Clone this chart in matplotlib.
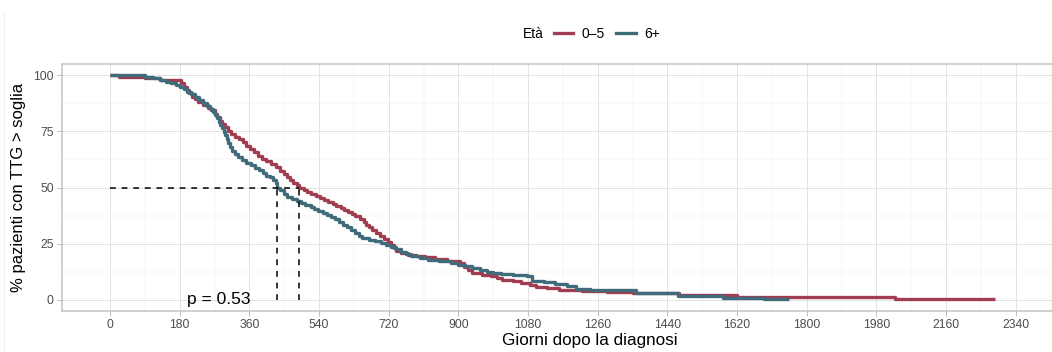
import numpy as np
import matplotlib
matplotlib.use("Agg")
import matplotlib.pyplot as plt
from matplotlib.lines import Line2D

plt.rcParams['font.family'] = ['Liberation Sans', 'DejaVu Sans']

# Kaplan-Meier steps (day, % above threshold after the drop)
t_05 = [0, 22, 90, 130, 183, 190, 198, 205, 212, 220, 228, 240, 252, 262, 270, 276, 283, 290,
        297, 305, 312, 322, 334, 344, 352, 362, 372, 382, 392, 404, 416, 428, 440, 450, 458,
        466, 474, 482, 488, 500, 510, 520, 532, 543, 553, 563, 575, 585, 596, 605, 614, 624,
        634, 645, 655, 662, 670, 678, 688, 698, 708, 718, 726, 733, 740, 752, 770, 790, 815,
        840, 870, 905, 915, 925, 935, 960, 985, 1000, 1012, 1040, 1062, 1085, 1100, 1130,
        1160, 1220, 1285, 1350, 1470, 1620, 2027]
s_05 = [100, 99.1, 98.6, 97.8, 96.4, 94.9, 93.3, 92.0, 90.4, 89.3, 88.0, 86.7, 85.5, 84.4,
        82.7, 81.3, 79.6, 78.2, 76.9, 75.1, 73.8, 72.4, 71.6, 70.2, 68.4, 67.1, 65.8, 64.0,
        62.7, 61.8, 60.4, 59.1, 57.3, 56.0, 54.7, 53.3, 52.0, 51.1, 49.8, 48.9, 48.0, 47.1,
        46.2, 45.3, 44.4, 43.6, 42.7, 41.8, 40.9, 40.0, 39.1, 38.2, 37.3, 36.0, 34.7, 33.3,
        32.4, 31.1, 29.8, 28.4, 27.1, 25.8, 24.4, 23.1, 21.8, 20.9, 20.0, 19.6, 19.1, 18.2,
        17.3, 16.4, 14.7, 13.3, 12.0, 11.1, 10.4, 9.6, 8.9, 8.4, 7.6, 6.7, 5.8, 5.3, 4.4,
        4.0, 3.6, 3.1, 2.2, 1.2, 0.3]
end_05 = 2287

t_6p = [0, 90, 110, 130, 145, 158, 170, 182, 192, 200, 210, 220, 230, 240, 250, 258, 265,
        270, 276, 281, 285, 290, 294, 298, 302, 306, 311, 316, 322, 330, 340, 352, 364, 374,
        384, 394, 404, 414, 420, 428, 431, 440, 450, 458, 470, 482, 494, 505, 518, 528, 538,
        550, 561, 570, 580, 592, 603, 612, 622, 632, 642, 652, 668, 685, 700, 712, 725, 740,
        752, 765, 777, 800, 822, 850, 880, 900, 918, 935, 955, 975, 990, 1010, 1040, 1078,
        1090, 1120, 1150, 1180, 1205, 1240, 1300, 1360, 1468, 1584, 1690]
s_6p = [100, 99.3, 98.9, 97.8, 97.1, 96.4, 95.6, 94.8, 93.7, 92.6, 91.5, 90.2, 89.1, 87.8,
        86.4, 85.1, 83.8, 82.3, 80.9, 79.3, 77.8, 76.4, 74.9, 73.3, 71.6, 70.0, 68.2, 66.4,
        64.9, 63.6, 62.4, 61.1, 60.0, 58.9, 57.6, 56.4, 55.1, 54.7, 53.3, 52.0, 49.8, 48.7,
        47.3, 45.8, 44.9, 44.2, 43.3, 42.4, 41.5, 40.4, 39.6, 38.7, 37.8, 36.9, 35.8, 34.7,
        33.3, 32.2, 31.1, 29.8, 28.4, 27.6, 26.7, 26.0, 25.3, 24.4, 23.6, 22.7, 21.3, 20.4,
        19.3, 18.7, 17.8, 17.1, 16.4, 15.6, 14.9, 14.0, 13.3, 12.4, 11.8, 11.3, 10.9, 10.4,
        8.4, 7.8, 7.1, 6.0, 4.9, 4.4, 4.2, 3.1, 1.6, 0.8, 0.3]
end_6p = 1755

groups = ["0\u20135", "6+"]
colors = ["#A03D50", "#3F6B7B"]
x_max = 2480          # longest follow-up, sets the axis range
p_value = 0.53

fig = plt.figure(figsize=(10.52, 3.52), dpi=100)
ax = fig.add_axes([62 / 1052, 41 / 352, 1056 / 1052, 247 / 352])

curves = [(t_05, s_05, end_05), (t_6p, s_6p, end_6p)]
medians = []
for (t, s, end), col in zip(curves, colors):
    tt = np.append(t, end)
    ss = np.append(s, s[-1])
    ax.step(tt, ss, where="post", color=col, lw=2.4, solid_capstyle="butt", zorder=3)
    medians.append(tt[np.argmax(ss <= 50)])

dash = dict(color="black", lw=1.1, dashes=(3.8, 3.8), zorder=4)
ax.plot([0, max(medians)], [50, 50], **dash)
for m in medians:
    ax.plot([m, m], [0, 50], **dash)

ax.text(200, 0, f"p = {p_value}", fontsize=12.5, ha="left", va="center", zorder=5)

ax.set_xlim(-0.05 * x_max, 1.05 * x_max)
ax.set_ylim(-5, 105)
ax.set_xticks(np.arange(0, 2341, 180))
ax.set_xticks(np.arange(90, 2521, 180), minor=True)
ax.set_yticks([0, 25, 50, 75, 100])
ax.set_yticks([12.5, 37.5, 62.5, 87.5], minor=True)
ax.grid(True, which="major", color="#DEDEDE", lw=0.6, zorder=0)
ax.grid(True, which="minor", color="#EEEEEE", lw=0.35, zorder=0)
ax.axvline(2520, color="#DEDEDE", lw=0.6, zorder=0)
ax.set_axisbelow(True)
ax.tick_params(which="major", length=3.5, width=0.6, color="#B3B3B3",
               labelcolor="#4D4D4D", labelsize=8.8, pad=2.5)
ax.tick_params(which="minor", length=0)
for sp in ax.spines.values():
    sp.set_color("#C4C4C4")
    sp.set_linewidth(1.1)

ax.set_xlabel("Giorni dopo la diagnosi", fontsize=12.3, labelpad=1.5)
ax.set_ylabel("% pazienti con TTG > soglia", fontsize=12, labelpad=5)

handles = [Line2D([], [], color=c, lw=2.4) for c in colors]
fig.legend(handles, groups, ncol=2, loc="center left", bbox_to_anchor=(554 / 1052, 1 - 34 / 352),
           frameon=False, fontsize=10, handlelength=1.4, handletextpad=0.6,
           columnspacing=0.8, borderaxespad=0, borderpad=0)
fig.text(523 / 1052, 1 - 34 / 352, "Et\u00e0", fontsize=10, ha="left", va="center")

fig.add_artist(Line2D([4 / 1052, 4 / 1052], [0, 1 - 12 / 352], color="#EEEEEE", lw=0.8))

fig.savefig("out.png", dpi=100)
